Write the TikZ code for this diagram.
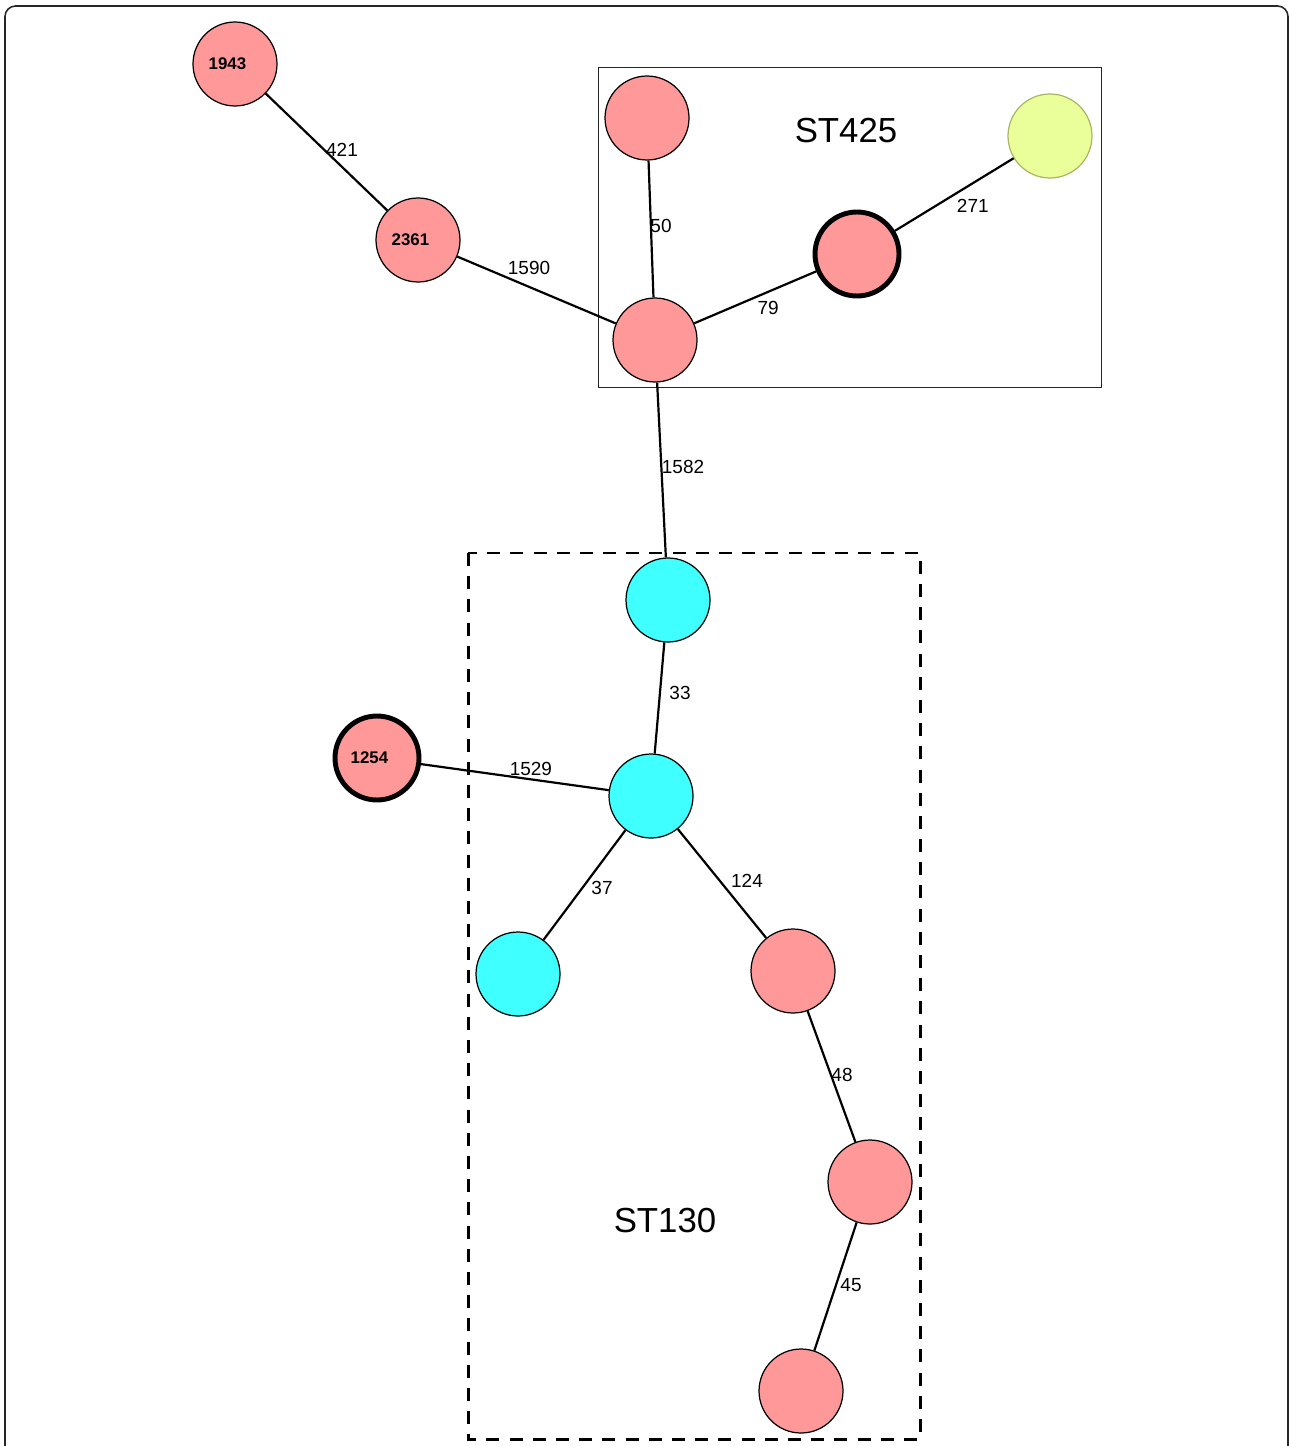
\documentclass[tikz,border=0pt]{standalone}
\usepackage{fontspec}
\setmainfont{Liberation Sans}
\definecolor{stpink}{RGB}{255,153,153}
\definecolor{stcyan}{RGB}{64,255,255}
\definecolor{styellow}{RGB}{234,255,153}
\definecolor{styelline}{RGB}{170,182,100}
\tikzset{
  st/.style={circle,draw=black,line width=0.7pt,minimum size=1.68cm,inner sep=0pt},
  stp/.style={st,fill=stpink},
  stc/.style={st,fill=stcyan},
  sty/.style={st,fill=styellow,draw=styelline},
  hot/.style={line width=2.8pt},
  nlbl/.style={font=\fontsize{9.6}{10}\selectfont\bfseries,xshift=-4.3pt},
  elbl/.style={font=\fontsize{10.8}{12}\selectfont,inner sep=0pt},
  link/.style={line width=1.25pt},
}
\begin{document}
\begin{tikzpicture}[x=0.02cm,y=-0.02cm]
        \useasboundingbox (0,0) rectangle (1290,1446);
        \clip (0,0) rectangle (1290,1446);
        \draw[line width=0.9pt,draw=black!85,rounded corners=6] (5,6) rectangle (1288,1470);

        % groups
        \draw[line width=0.5pt,draw=black!85] (598,67) rectangle (1101,387);
        \draw[line width=1.7pt,dash pattern=on 7.4pt off 5.8pt] (468,553) rectangle (920,1439);
        \node[font=\fontsize{19.8}{22}\selectfont] (st425) at (846,131) {ST425};
        \node[font=\fontsize{19.8}{22}\selectfont] (st130) at (665,1221) {ST130};

        % isolates
        \node[stp,label={[nlbl]center:1943}] (n1943) at (235,64) {};
        \node[stp,label={[nlbl]center:2361}] (n2361) at (418,240) {};
        \node[stp] (top) at (647,118) {};
        \node[stp] (hub) at (655,340) {};
        \node[stp,hot] (ref) at (857,254) {};
        \node[sty] (yel) at (1050,136) {};
        \node[stc] (cya) at (668,600) {};
        \node[stc] (cyb) at (651,796) {};
        \node[stc] (cyc) at (518,974) {};
        \node[stp,hot,label={[nlbl]center:1254}] (n1254) at (377,758) {};
        \node[stp] (pka) at (793,971) {};
        \node[stp] (pkb) at (870,1182) {};
        \node[stp] (pkc) at (801,1391) {};

        % links
        \draw[link] (n1943) -- node[elbl,shift={(15.5,-2)}] {421} (n2361);
        \draw[link] (n2361) -- node[elbl,shift={(-7.5,-22)}] {1590} (hub);
        \draw[link] (top) -- node[elbl,shift={(10,-3)}] {50} (hub);
        \draw[link] (hub) -- node[elbl,shift={(13,11)}] {79} (ref);
        \draw[link] (ref) -- node[elbl,shift={(18.5,11)}] {271} (yel);
        \draw[link] (hub) -- node[elbl,shift={(21.5,-3)}] {1582} (cya);
        \draw[link] (cya) -- node[elbl,shift={(20.5,-5)}] {33} (cyb);
        \draw[link] (n1254) -- node[elbl,shift={(16,-8)}] {1529} (cyb);
        \draw[link] (cyb) -- node[elbl,shift={(17.5,3)}] {37} (cyc);
        \draw[link] (cyb) -- node[elbl,shift={(25,-2.5)}] {124} (pka);
        \draw[link] (pka) -- node[elbl,shift={(10.5,-1.5)}] {48} (pkb);
        \draw[link] (pkb) -- node[elbl,shift={(15.5,-1.5)}] {45} (pkc);
      \end{tikzpicture}
\end{document}
